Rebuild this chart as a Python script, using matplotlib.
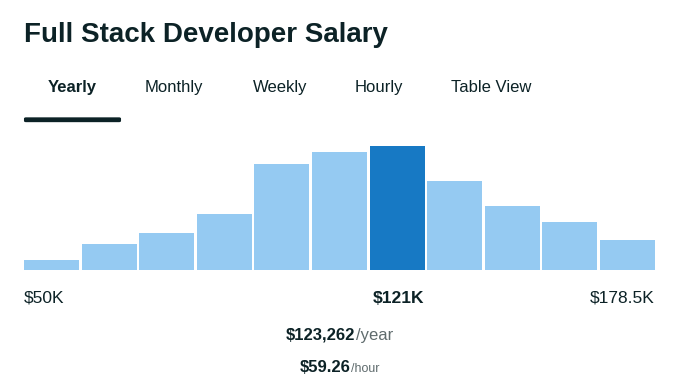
import matplotlib
matplotlib.use("Agg")
import matplotlib.pyplot as plt
from matplotlib.patches import FancyBboxPatch

# salary distribution (relative bar heights, % of tallest bar)
heights = [8, 21, 30, 45, 86, 95, 100, 72, 52, 39, 24]
highlight = 6  # the bar holding the median
tabs = ["Yearly", "Monthly", "Weekly", "Hourly", "Table View"]
tab_x = [48, 145, 253, 355, 451]
range_labels = ["$50K", "$121K", "$178.5K"]
avg_year = "$123,262"
avg_hour = "$59.26"

W, H = 677, 388
dark = "#0c2226"
light_blue = "#95caf2"
strong_blue = "#1779c4"

plt.rcParams["font.family"] = ["Liberation Sans", "DejaVu Sans"]

fig = plt.figure(figsize=(W / 100, H / 100), dpi=100)


def fx(px):
    return px / W


def fy(py):
    return 1 - py / H


# title + tabs
fig.text(fx(24), fy(42), "Full Stack Developer Salary", fontsize=20,
         fontweight="bold", color=dark, va="baseline")
for i, (t, x) in enumerate(zip(tabs, tab_x)):
    fig.text(fx(x), fy(92), t, fontsize=12, color=dark, va="baseline",
             fontweight="bold" if i == 0 else "normal")
# underline of the active tab
fig.patches.append(FancyBboxPatch((fx(26), fy(121)), fx(93), 2.5 / H,
                                  boxstyle="round,pad=0.003", transform=fig.transFigure,
                                  color=dark, linewidth=0))

# bars
ax = fig.add_axes([fx(24), fy(270), fx(631), 125 / H])
colors = [strong_blue if i == highlight else light_blue for i in range(len(heights))]
ax.bar(range(len(heights)), heights, width=0.955, color=colors)
ax.set_xlim(-0.4775, len(heights) - 0.5225)
ax.set_ylim(0, 101)
ax.axis("off")

# range labels
fig.text(fx(24), fy(303), range_labels[0], fontsize=12.5, color=dark, va="baseline")
fig.text(fx(398.5), fy(303), range_labels[1], fontsize=12.5, color=dark,
         fontweight="bold", va="baseline", ha="center")
fig.text(fx(655), fy(303), range_labels[2], fontsize=12.5, color=dark,
         va="baseline", ha="right")

# average lines: bold value followed by grey unit, centred as a whole
fig.canvas.draw()
r = fig.canvas.get_renderer()


def value_line(y, value, unit, size, unit_size):
    t1 = fig.text(0, fy(y), value, fontsize=size, fontweight="bold", color=dark, va="baseline")
    t2 = fig.text(0, fy(y), unit, fontsize=unit_size, color="#5f6b6d", va="baseline")
    w1 = t1.get_window_extent(r).width
    w2 = t2.get_window_extent(r).width
    x0 = 339.5 - (w1 + w2) / 2
    t1.set_x(fx(x0))
    t2.set_x(fx(x0 + w1))


value_line(340, avg_year, "/year", 12, 12)
value_line(372, avg_hour, "/hour", 12, 9)

fig.savefig("out.png", dpi=100)
